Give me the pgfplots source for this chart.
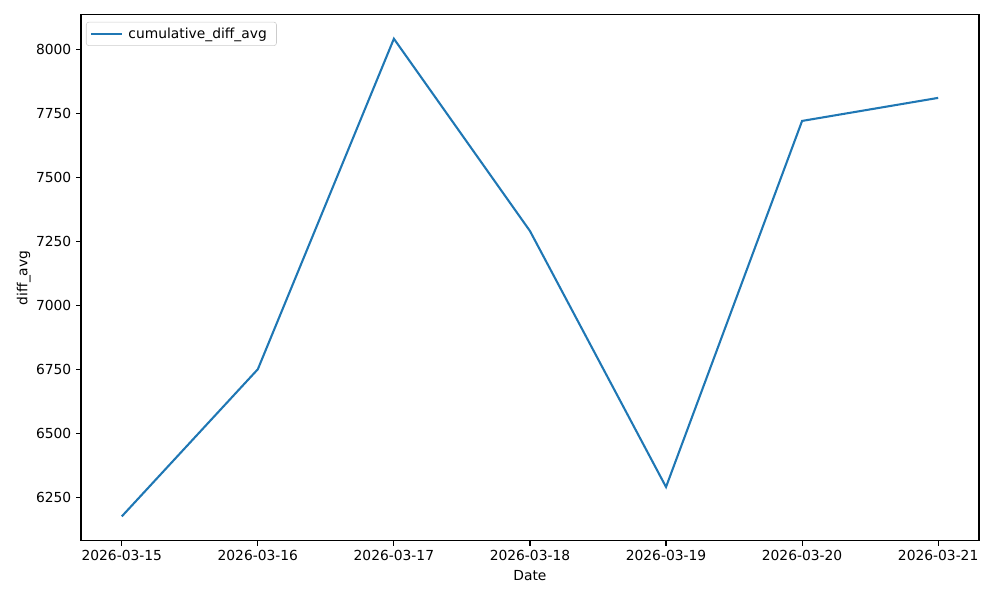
\documentclass[border=0pt]{standalone}
\usepackage{pgfplots}
\pgfplotsset{compat=1.18}
\usepackage{fontspec}
\setmainfont{DejaVu Sans}
\definecolor{mplblue}{HTML}{1F77B4}

\begin{document}
\fontsize{10pt}{12pt}\selectfont
\begin{tikzpicture}
\begin{axis}[
    scale only axis,
    width=649pt, height=380pt,
    xmin=-0.3, xmax=6.3,
    ymin=6082, ymax=8136,
    xtick={0,1,2,3,4,5,6},
    xticklabels={2026-03-15,2026-03-16,2026-03-17,2026-03-18,2026-03-19,2026-03-20,2026-03-21},
    ytick={6250,6500,6750,7000,7250,7500,7750,8000},
    /pgf/number format/1000 sep={},
    /pgf/number format/assume math mode=true,
    tick align=outside, tick pos=left,
    major tick length=3.5pt,
    tick style={black, line width=0.8pt},
    axis line style={line width=0.8pt},
    xlabel={Date}, ylabel={diff\_avg},
    ylabel style={yshift=-3pt},
    legend style={at={(0.0056,0.987)}, anchor=north west, draw=black!20, rounded corners=2pt,
        font=\fontsize{10pt}{12pt}\selectfont, inner xsep=3pt, inner ysep=2pt,
        nodes={inner xsep=4pt}},
    legend cell align=left,
    legend image code/.code={\draw[#1] (1pt,0pt) -- (23pt,0pt);},
]
\addplot[mplblue, line width=1.5pt] coordinates {
    (0,6177) (1,6752) (2,8043) (3,7292) (4,6292) (5,7722) (6,7812)
};
\addlegendentry{cumulative\_diff\_avg}
\end{axis}
\pgfresetboundingbox
\useasboundingbox ([xshift=-58.5pt,yshift=-42.6pt]current axis.south west) rectangle ([xshift=15.2pt,yshift=10.8pt]current axis.north east);
\end{tikzpicture}
\end{document}
